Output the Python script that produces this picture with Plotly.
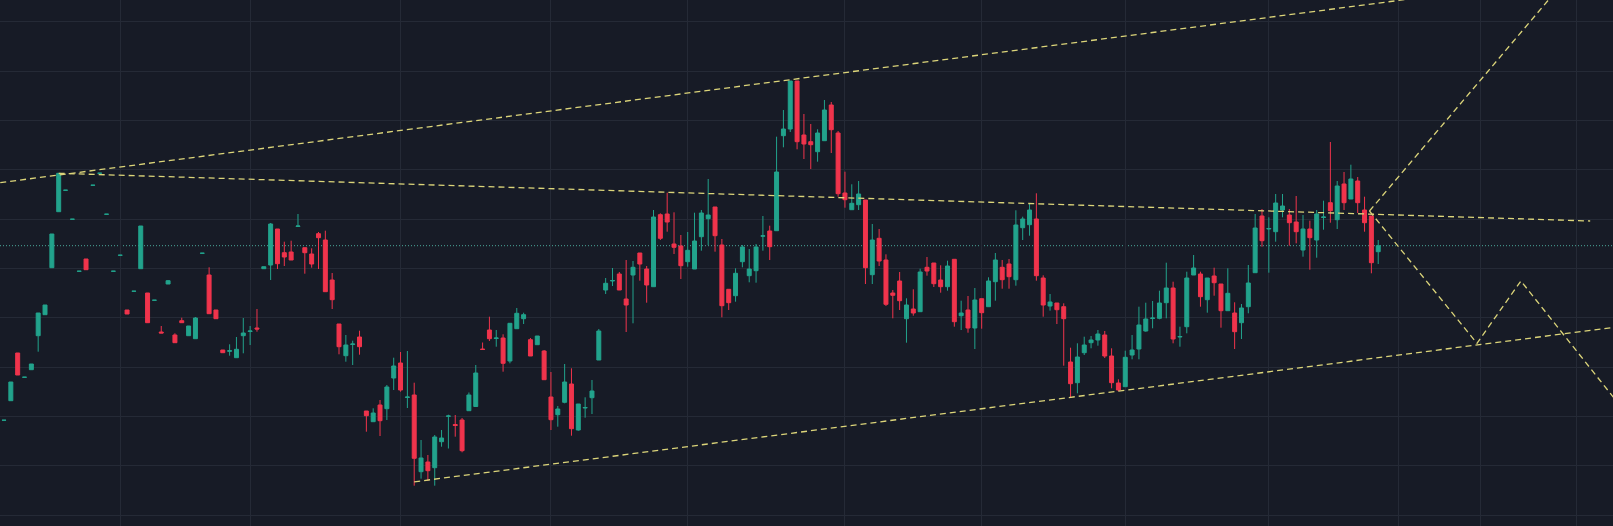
import numpy as np
import plotly.graph_objects as go

# Daily OHLC bars (bar index = trading day)
opens = [
    57.97, 59.93, 64.70, 62.27, 63.03, 66.43, 68.53, 73.23, 78.83, 80.97,
    78.07, 72.87, 74.10, 81.47, 82.67, 78.57, 72.87, 74.47, 69.00, 70.87,
    73.13, 70.70, 69.97, 66.80, 71.60, 66.50, 67.93, 66.43, 66.13, 74.67,
    72.50, 69.00, 65.00, 64.87, 64.23, 66.43, 66.85, 67.20, 73.13, 73.50,
    77.10, 74.73, 74.80, 77.35, 75.23, 74.60, 76.63, 76.00, 72.00, 67.60,
    64.43, 65.55, 66.30, 58.90, 57.83, 59.50, 59.13, 62.20, 63.70, 60.25,
    60.50, 52.83, 53.80, 53.23, 55.83, 58.37, 57.55, 58.00, 58.93, 59.35,
    65.10, 67.00, 66.15, 66.20, 63.90, 67.13, 68.13, 66.03, 65.53, 64.90,
    60.30, 58.53, 59.77, 61.60, 57.00, 59.20, 60.23, 64.00, 71.00, 71.90,
    72.60, 70.10, 72.50, 74.70, 73.10, 71.33, 78.53, 78.60, 75.60, 75.40,
    73.83, 73.10, 76.33, 78.13, 79.30, 75.50, 71.07, 70.43, 73.83, 72.43,
    72.93, 76.38, 76.90, 76.93, 86.43, 87.10, 91.90, 86.50, 85.83, 84.83,
    85.93, 89.50, 86.70, 80.70, 79.03, 79.53, 80.00, 72.53, 76.17, 74.00,
    70.70, 71.90, 68.13, 69.10, 68.83, 73.27, 73.70, 72.00, 71.33, 74.07,
    68.43, 69.00, 67.20, 70.13, 69.33, 71.83, 73.27, 73.60, 72.03, 77.23,
    77.53, 78.10, 72.20, 69.40, 69.70, 69.33, 63.80, 61.73, 64.73, 65.73,
    66.00, 66.50, 64.40, 61.70, 61.33, 64.50, 65.10, 66.90, 68.15, 68.17,
    69.73, 71.20, 66.30, 67.33, 72.50, 72.60, 70.03, 72.40, 71.60, 68.93,
    68.70, 67.73, 69.33, 72.73, 78.40, 77.10, 76.83, 79.00, 78.50, 77.80,
    75.00, 77.10, 76.00, 78.25, 79.73, 78.03, 81.60, 80.10, 81.90, 79.00,
    78.40, 74.83,
]
highs = [
    57.98, 61.80, 64.70, 62.28, 63.60, 68.70, 69.50, 76.60, 82.67, 80.98,
    78.08, 72.88, 74.10, 81.48, 82.68, 78.58, 72.88, 74.48, 69.00, 70.88,
    77.40, 70.70, 69.98, 67.40, 72.00, 66.67, 68.23, 67.40, 68.30, 74.68,
    73.27, 69.00, 65.00, 65.57, 66.30, 68.20, 67.40, 69.10, 73.33, 77.70,
    77.10, 75.83, 75.93, 78.60, 75.23, 75.17, 76.80, 76.93, 72.70, 67.60,
    66.50, 65.93, 66.93, 58.90, 59.17, 60.00, 61.50, 64.23, 64.80, 64.90,
    61.73, 56.00, 54.50, 56.50, 57.00, 58.53, 58.50, 58.20, 60.75, 63.50,
    65.75, 68.33, 67.00, 66.57, 67.70, 69.20, 68.73, 66.20, 66.40, 65.00,
    62.80, 59.40, 63.60, 63.17, 59.60, 60.27, 62.00, 67.10, 72.20, 73.20,
    72.80, 74.00, 73.90, 74.70, 73.40, 79.00, 78.67, 80.73, 78.77, 76.50,
    76.80, 78.73, 79.00, 82.10, 79.30, 76.10, 71.07, 73.17, 75.50, 75.10,
    75.60, 78.40, 77.43, 86.33, 89.00, 91.90, 91.90, 88.60, 87.60, 87.07,
    90.00, 89.80, 86.90, 82.83, 81.57, 81.90, 80.00, 77.60, 77.10, 74.57,
    71.00, 72.80, 70.17, 71.07, 73.13, 74.30, 73.70, 73.47, 73.93, 74.07,
    69.93, 70.40, 71.20, 70.13, 72.27, 74.70, 74.00, 74.10, 78.97, 78.33,
    79.60, 80.67, 72.47, 70.60, 69.70, 69.67, 65.23, 65.67, 66.33, 66.40,
    67.00, 66.90, 65.17, 62.07, 64.93, 66.50, 69.33, 69.73, 69.90, 70.93,
    73.73, 71.83, 67.33, 72.83, 74.50, 72.83, 72.20, 73.23, 71.60, 73.17,
    69.77, 69.60, 73.50, 78.60, 79.10, 78.27, 80.60, 80.60, 79.10, 80.40,
    78.50, 77.93, 79.00, 79.93, 85.80, 81.90, 82.80, 83.53, 82.30, 80.33,
    78.40, 76.00,
]
lows = [
    57.97, 59.93, 62.50, 62.27, 63.03, 64.83, 68.53, 73.23, 78.83, 80.97,
    78.07, 72.87, 73.03, 81.47, 82.67, 78.57, 72.87, 74.47, 68.60, 70.87,
    73.13, 67.73, 69.97, 66.70, 71.60, 65.73, 67.73, 66.43, 66.13, 74.67,
    68.63, 68.13, 64.73, 64.43, 64.23, 64.67, 65.50, 66.83, 73.13, 72.00,
    73.10, 73.40, 74.00, 77.35, 72.63, 73.23, 73.10, 70.83, 69.10, 64.57,
    63.83, 63.50, 64.53, 56.83, 57.83, 56.40, 58.00, 61.00, 60.83, 59.20,
    51.43, 52.13, 51.90, 51.43, 55.33, 55.15, 56.33, 54.77, 58.93, 59.33,
    65.05, 65.90, 65.33, 62.83, 63.67, 67.13, 67.60, 64.40, 65.53, 62.03,
    57.00, 57.33, 59.67, 56.43, 56.93, 58.23, 58.60, 64.00, 70.60, 71.40,
    71.00, 66.80, 67.67, 71.93, 69.73, 71.33, 76.00, 76.83, 74.60, 72.10,
    73.33, 73.10, 74.93, 75.50, 74.83, 68.27, 69.00, 69.83, 73.27, 71.77,
    71.73, 74.93, 74.00, 76.93, 85.27, 86.80, 85.07, 84.10, 83.10, 83.83,
    85.93, 84.70, 80.33, 79.23, 79.03, 79.00, 71.60, 71.60, 73.40, 69.40,
    68.17, 69.00, 65.73, 68.43, 68.83, 72.43, 71.30, 70.73, 70.93, 67.33,
    67.00, 66.73, 65.10, 67.13, 69.33, 69.93, 71.13, 71.13, 71.43, 76.00,
    76.43, 71.93, 68.33, 68.93, 67.60, 63.43, 60.27, 60.67, 64.50, 65.17,
    65.43, 64.20, 61.17, 60.87, 61.33, 64.07, 64.07, 66.83, 67.17, 68.07,
    68.17, 65.67, 65.33, 66.67, 72.50, 69.33, 68.73, 70.43, 67.23, 68.93,
    65.10, 66.10, 68.67, 72.73, 75.33, 72.73, 75.83, 78.27, 75.43, 75.67,
    74.33, 73.03, 74.23, 77.03, 77.73, 77.10, 79.00, 80.10, 78.70, 76.83,
    72.67, 73.60,
]
closes = [
    57.98, 61.80, 62.50, 62.28, 63.60, 68.70, 69.50, 76.60, 82.67, 80.98,
    78.08, 72.88, 73.03, 81.48, 82.68, 78.58, 72.88, 74.48, 68.60, 70.88,
    77.40, 67.73, 69.98, 66.70, 71.93, 65.73, 67.73, 67.40, 68.20, 74.68,
    68.63, 68.13, 64.73, 64.93, 65.07, 66.70, 66.90, 67.10, 73.33, 77.60,
    73.63, 74.30, 74.00, 77.40, 74.73, 73.60, 76.23, 70.83, 70.03, 65.33,
    65.50, 65.60, 65.33, 58.43, 58.70, 57.93, 61.30, 63.40, 61.00, 60.30,
    54.17, 54.20, 52.93, 56.30, 56.20, 58.40, 57.45, 54.93, 60.50, 62.70,
    65.05, 66.13, 66.20, 63.67, 67.67, 68.67, 68.53, 64.40, 66.40, 62.03,
    58.03, 59.10, 61.80, 57.13, 59.60, 59.25, 60.90, 66.90, 71.67, 71.95,
    71.00, 69.50, 73.27, 73.60, 71.50, 78.30, 76.17, 77.80, 75.27, 73.43,
    74.97, 75.90, 78.70, 78.50, 76.43, 69.43, 69.73, 72.67, 75.30, 73.10,
    75.30, 76.42, 75.33, 82.80, 87.10, 91.90, 85.83, 85.60, 85.53, 86.70,
    89.00, 87.03, 80.63, 80.03, 79.67, 80.60, 73.23, 76.00, 73.90, 69.57,
    70.47, 69.93, 69.50, 68.70, 72.80, 72.90, 71.63, 71.33, 73.40, 67.83,
    68.70, 67.20, 70.00, 68.73, 71.90, 74.00, 72.03, 72.33, 77.50, 78.10,
    79.00, 72.43, 69.50, 69.80, 69.03, 68.13, 61.63, 64.30, 65.50, 66.00,
    66.60, 64.40, 61.73, 61.00, 64.27, 65.00, 67.50, 68.10, 68.20, 69.70,
    71.20, 66.10, 66.35, 72.20, 73.20, 70.33, 72.20, 71.73, 68.93, 70.67,
    66.83, 69.20, 71.70, 77.20, 75.93, 77.15, 79.70, 79.40, 77.73, 76.83,
    77.10, 76.23, 78.60, 78.30, 78.93, 81.40, 79.73, 82.10, 79.73, 77.73,
    73.73, 75.43,
]
bars = list(range(len(opens)))

# Month boundaries (bar index) and horizontal price grid levels
month_starts = [17, 36, 58, 80, 100, 123, 143, 164, 185, 204, 216, 230]
grid_levels = [97.83, 92.90, 87.97, 83.03, 78.09, 73.16, 68.22, 63.29,
               58.35, 53.42, 48.48]

# Trendline anchors: (bar, price)
upper_trend = [(8, 82.50), (115, 92.03)]       # rising resistance, extended
flat_trend = [(8, 82.67), (232, 77.90)]        # slightly falling line
lower_trend = [(60, 51.82), (156, 60.27)]      # rising support, extended
projection_up = [(199.72, 78.90), (227.0, 100.89)]
projection_zigzag = [(199.72, 78.90), (215.44, 65.67), (221.87, 71.90), (237.0, 58.90)]

BG = "#171b26"
GRID = "#252a36"
UP = "#22a38c"
DOWN = "#f0344c"
TREND = "#dcd57a"
PRICE_LINE = "#4aa89b"

X_RANGE = [-0.585, 235.34]
Y_RANGE = [47.4, 100.0]


def extended(anchors, x_from, x_to):
    (x0, y0), (x1, y1) = anchors
    slope = (y1 - y0) / (x1 - x0)
    xs = np.array([x_from, x_to], dtype=float)
    return xs, y0 + slope * (xs - x0)


fig = go.Figure()

fig.add_hline(y=closes[-1], line=dict(color=PRICE_LINE, width=1, dash="1px,2px"),
              layer="below")

fig.add_trace(go.Candlestick(
    x=bars, open=opens, high=highs, low=lows, close=closes,
    increasing=dict(line=dict(color=UP, width=1), fillcolor=UP),
    decreasing=dict(line=dict(color=DOWN, width=1), fillcolor=DOWN),
    whiskerwidth=0,
    hoverinfo="skip",
))

trend_style = dict(color=TREND, width=1.3, dash="6px,4px")

xs, ys = extended(upper_trend, -2, 215)
fig.add_trace(go.Scatter(x=xs, y=ys, mode="lines", line=trend_style, hoverinfo="skip"))

fig.add_trace(go.Scatter(x=[p[0] for p in flat_trend], y=[p[1] for p in flat_trend],
                         mode="lines", line=trend_style, hoverinfo="skip"))

xs, ys = extended(lower_trend, lower_trend[0][0], 240)
fig.add_trace(go.Scatter(x=xs, y=ys, mode="lines", line=trend_style, hoverinfo="skip"))

for path in (projection_up, projection_zigzag):
    fig.add_trace(go.Scatter(x=[p[0] for p in path], y=[p[1] for p in path],
                             mode="lines", line=trend_style, hoverinfo="skip"))

fig.update_layout(
    width=1613, height=526,
    margin=dict(l=0, r=0, t=0, b=0),
    paper_bgcolor=BG, plot_bgcolor=BG,
    showlegend=False,
    boxgap=0.42, boxgroupgap=0,
    xaxis=dict(range=X_RANGE, tickvals=month_starts, showticklabels=False,
               showgrid=True, gridcolor=GRID, gridwidth=1, zeroline=False,
               showline=False, ticks="", rangeslider=dict(visible=False)),
    yaxis=dict(range=Y_RANGE, tickvals=grid_levels, showticklabels=False,
               showgrid=True, gridcolor=GRID, gridwidth=1, zeroline=False,
               showline=False, ticks=""),
)

fig.write_html("out.html")
